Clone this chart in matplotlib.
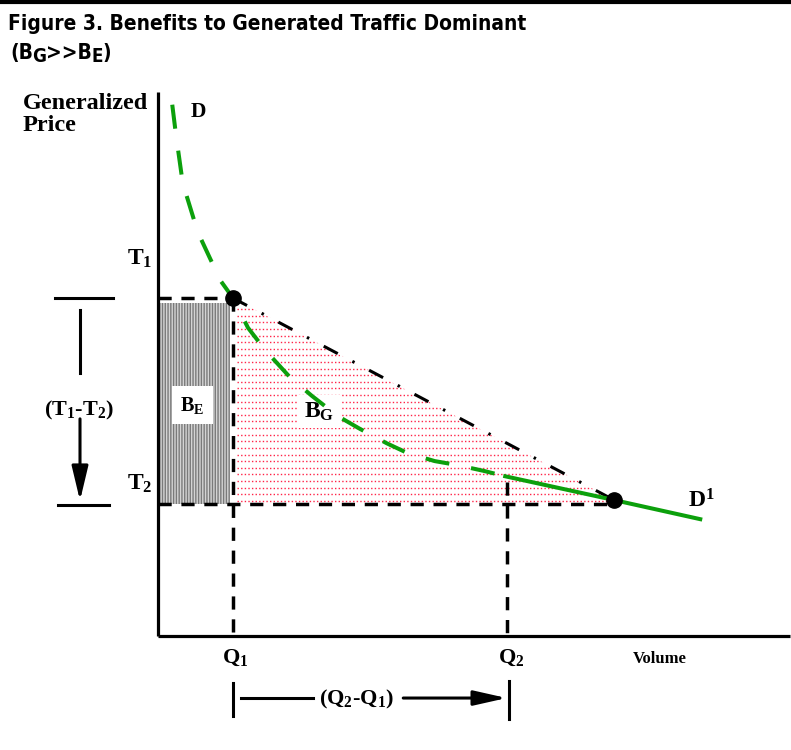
import matplotlib
matplotlib.use("Agg")
import matplotlib.pyplot as plt
import numpy as np
from matplotlib.patches import Rectangle, Polygon
from matplotlib.lines import Line2D

# diagram values (volume units along x, price units along y)
volume_q1 = 1.0
volume_q2 = 4.65
volume_new = 6.08
price_t1 = 5.12
price_t2 = 2.0
price_new = 2.06

# demand curve D, dashed part (old demand) and solid part D1
demand_x = [0.19, 0.24, 0.33, 0.53, 0.83, 1.0, 1.2, 1.43, 1.76, 2.05, 2.4,
            2.69, 3.05, 3.33, 3.69, 3.99, 4.35, 4.63]
demand_y = [8.05, 7.59, 6.86, 6.12, 5.39, 5.12, 4.67, 4.33, 3.92, 3.64, 3.33,
            3.14, 2.92, 2.77, 2.65, 2.59, 2.50, 2.42]
demand1_x = [4.63, 6.08, 7.23]
demand1_y = [2.42, 2.06, 1.77]

axis_x_end = 8.43
axis_y_end = 8.24

# second title line, split so the subscripts can be sized like the original
title_parts = ["(B", "G", ">>B", "E", ")"]
title_is_sub = [False, True, False, True, False]

plt.rcParams["mathtext.fontset"] = "custom"
plt.rcParams["mathtext.rm"] = "Liberation Serif:bold"
plt.rcParams["mathtext.it"] = "Liberation Serif:bold"
plt.rcParams["mathtext.bf"] = "Liberation Serif:bold"

serif = dict(family="Liberation Serif", fontweight="bold", color="black")
title_font = dict(family="DejaVu Sans", fontweight="bold", fontstretch="condensed",
                  va="baseline")

fig = plt.figure(figsize=(7.91, 7.5), dpi=100, facecolor="white")
ax = fig.add_axes([0, 0, 1, 1])
ax.set_xlim(-158 / 75, 633 / 75)
ax.set_ylim(-114 / 66, 636 / 66)
ax.axis("off")

# top rule and title
fig.add_artist(Line2D([0, 1], [1 - 2 / 750, 1 - 2 / 750], color="black", lw=3,
                      transform=fig.transFigure))
fig.text(8 / 791, 1 - 30 / 750, "Figure 3. Benefits to Generated Traffic Dominant",
         fontsize=15, **title_font)

base_y = 1 - 59 / 750
prev = fig.text(10 / 791, base_y, title_parts[0], fontsize=15, **title_font)
for part, sub in zip(title_parts[1:], title_is_sub[1:]):
    prev = ax.annotate(part, xy=(1, base_y - (3 / 750 if sub else 0)),
                       xycoords=(prev, "figure fraction"),
                       xytext=(-0.3, 0), textcoords="offset points",
                       fontsize=13.5 if sub else 15, ha="left", **title_font)

# axes
ax.plot([0, 0], [0, axis_y_end], color="black", lw=2.3, solid_capstyle="butt")
ax.plot([0, axis_x_end], [0, 0], color="black", lw=2.3, solid_capstyle="butt")

# B_E area
ax.add_patch(Rectangle((0.03, price_t2), volume_q1 - 0.07, price_t1 - price_t2 - 0.08,
                       facecolor="#d4d4d4", edgecolor="#7a7a7a", hatch="||||||",
                       lw=0, zorder=1))

# B_G area: dotted red lines clipped to the triangle
region = Polygon([(volume_q1, price_t1), (volume_new, price_new),
                  (volume_new, price_t2), (volume_q1, price_t2)],
                 closed=True, facecolor="none", edgecolor="none")
ax.add_patch(region)
levels = np.arange(price_t2 + 0.05, price_t1, 0.1)
hatch = ax.hlines(levels, volume_q1 + 0.05, volume_new, colors="#ff2448",
                  linestyles=(0, (1, 1.6)), lw=1.0, zorder=1)
hatch.set_clip_path(region)

# dashed guide lines
dash = dict(color="black", lw=2.5, dashes=(3.8, 2.8), zorder=3)
ax.plot([0, volume_q1], [price_t1, price_t1], **dash)
ax.plot([0, volume_new], [price_t2, price_t2], **dash)
ax.plot([volume_q1, volume_q1], [price_t1, 0], **dash)
ax.plot([volume_q2, volume_q2], [2.33, 0], **dash)

# dash-dot line between the two equilibria
ax.plot([volume_q1, volume_new], [price_t1, price_new], color="black", lw=2.2,
        dashes=(5.2, 5.4, 0.8, 5.4), zorder=3)

# demand curves
ax.plot(demand_x, demand_y, color="#0ca00c", lw=2.9, dashes=(6, 5.5), zorder=4)
ax.plot(demand1_x, demand1_y, color="#0ca00c", lw=2.9, zorder=4)

ax.plot([volume_q1, volume_new], [price_t1, price_new], "o", color="black",
        markersize=11, zorder=5)

# labels
ax.text(-1.80, 8.22, "Generalized\nPrice", fontsize=17.5, va="top", ha="left",
        linespacing=1.05, **serif)
ax.text(0.43, 7.86, "D", fontsize=15.5, va="baseline", **serif)
ax.text(-0.41, 5.62, r"T$_1$", fontsize=17, va="baseline", **serif)
ax.text(-0.41, 2.21, r"T$_2$", fontsize=17, va="baseline", **serif)
ax.text(7.07, 1.95, r"D$^1$", fontsize=17, va="baseline", **serif)
ax.text(volume_q1 + 0.03, -0.41, r"Q$_1$", fontsize=16, va="baseline", ha="center", **serif)
ax.text(volume_q2 + 0.06, -0.41, r"Q$_2$", fontsize=16, va="baseline", ha="center", **serif)
ax.text(6.33, -0.41, "Volume", fontsize=12, va="baseline", **serif)

ax.text(volume_q1 / 2 - 0.04, 3.5, r"B$_E$", fontsize=14.5, ha="center", va="center",
        bbox=dict(facecolor="white", edgecolor="none", pad=6), zorder=6, **serif)
ax.text(2.15, 3.4, r"B$_G$", fontsize=17, ha="center", va="center",
        bbox=dict(facecolor="white", edgecolor="none", pad=4), zorder=2, **serif)

# (T1-T2) bracket
ax.plot([-1.37, -0.60], [price_t1, price_t1], color="black", lw=2.2)
ax.plot([-1.33, -0.65], [price_t2 - 0.02, price_t2 - 0.02], color="black", lw=2.2)
ax.plot([-1.04, -1.04], [4.94, 3.98], color="black", lw=2.2)
ax.text(-1.05, 3.42, r"(T$_1$-T$_2$)", fontsize=16, ha="center", va="center", **serif)
ax.annotate("", xy=(-1.04, price_t2 + 0.05), xytext=(-1.04, 3.29),
            arrowprops=dict(arrowstyle="-|>,head_length=2.1,head_width=0.5",
                            color="black", lw=2.2, shrinkA=0, shrinkB=0))

# (Q2-Q1) bracket
ax.plot([volume_q1, volume_q1], [-0.71, -1.21], color="black", lw=2.2)
ax.plot([volume_q2 + 0.03, volume_q2 + 0.03], [-0.68, -1.25], color="black", lw=2.2)
ax.plot([1.11, 2.07], [-0.94, -0.94], color="black", lw=2.2)
ax.text(2.65, -0.96, r"(Q$_2$-Q$_1$)", fontsize=16, ha="center", va="center", **serif)
ax.annotate("", xy=(volume_q2, -0.94), xytext=(3.27, -0.94),
            arrowprops=dict(arrowstyle="-|>,head_length=2.0,head_width=0.45",
                            color="black", lw=2.2, shrinkA=0, shrinkB=0))

fig.savefig("out.png", dpi=100, facecolor="white")
